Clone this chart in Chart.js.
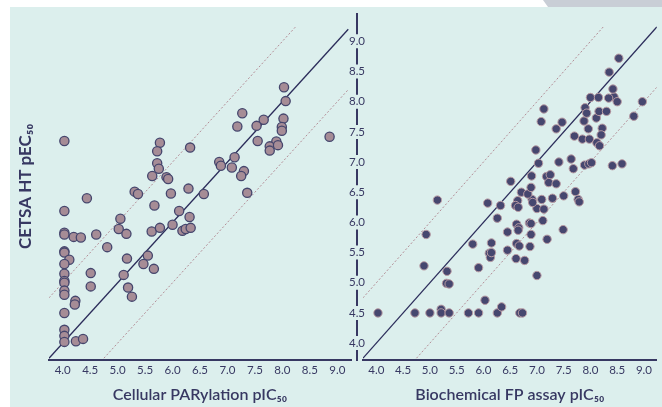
<!DOCTYPE html>
<html>
<head>
<meta charset="utf-8">
<script src="https://cdn.jsdelivr.net/npm/chart.js@4.4.1/dist/chart.umd.min.js"></script>
<style>
  html, body { margin: 0; padding: 0; background: #fff; }
  #page { position: relative; width: 662px; height: 407px; overflow: hidden; }
  #bg { position: absolute; left: 10px; top: 7px; width: 652px; height: 400px; background: #dcefed; }
  #tab { position: absolute; left: 543px; top: 0; width: 119px; height: 7px; background: #c9ced6;
         clip-path: polygon(0 0, 100% 0, 100% 100%, 5px 100%); }
  #left { position: absolute; left: 10px; top: 7px; }
  #right { position: absolute; left: 330px; top: 7px; }
</style>
</head>
<body>
<div id="page">
  <div id="bg"></div>
  <div id="tab"></div>
  <canvas id="left" width="347" height="400"></canvas>
  <canvas id="right" width="332" height="400"></canvas>
</div>
<script>
const xTicks = [4.0, 4.5, 5.0, 5.5, 6.0, 6.5, 7.0, 7.5, 8.0, 8.5, 9.0];
const yTicks = [4.0, 4.5, 5.0, 5.5, 6.0, 6.5, 7.0, 7.5, 8.0, 8.5, 9.0];

const yTitle = "CETSA HT pEC₅₀";
const leftTitle = "Cellular PARylation pIC₅₀";
const rightTitle = "Biochemical FP assay pIC₅₀";

// Cellular PARylation pIC50 vs CETSA HT pEC50
const cellularX = [4.03, 5.77, 5.72, 6.32, 5.72, 5.75, 5.63, 5.89, 5.92, 5.31, 5.37, 5.97, 6.29, 4.44, 4.03,
  5.67, 6.12, 6.31, 5.05, 5.02, 5.16, 5.62, 5.77, 6.00, 6.18, 6.24, 6.33, 4.03, 4.03, 4.20, 4.33, 4.61, 4.81,
  4.03, 4.03, 4.12, 4.03, 5.17, 5.55, 5.47, 5.66, 4.03, 4.51, 5.11, 4.03, 4.03, 4.03, 4.03, 4.51, 5.19, 5.26,
  4.23, 4.22, 4.03, 4.03, 4.03, 4.03, 4.24, 4.37,
  8.03, 8.06, 7.27, 8.02, 7.66, 7.18, 7.53, 7.99, 7.99, 8.86, 7.55, 7.89, 7.77, 7.92, 7.77, 7.13, 6.85, 6.88,
  7.08, 7.30, 7.25, 7.36, 6.57];
const cellularY = [7.35, 7.32, 7.18, 7.24, 6.98, 6.89, 6.77, 6.75, 6.72, 6.51, 6.47, 6.48, 6.56, 6.40, 6.19,
  6.28, 6.19, 6.09, 6.06, 5.89, 5.81, 5.85, 5.91, 5.96, 5.86, 5.89, 5.91, 5.83, 5.80, 5.76, 5.75, 5.80, 5.59,
  5.52, 5.50, 5.38, 5.31, 5.40, 5.45, 5.31, 5.23, 5.15, 5.16, 5.13, 5.03, 5.00, 4.87, 4.80, 4.94, 4.92, 4.77,
  4.70, 4.64, 4.50, 4.22, 4.12, 4.02, 4.03, 4.07,
  8.24, 8.01, 7.81, 7.72, 7.70, 7.59, 7.60, 7.58, 7.52, 7.42, 7.35, 7.34, 7.26, 7.28, 7.19, 7.08, 7.00, 6.94,
  6.91, 6.85, 6.77, 6.49, 6.47];

// Biochemical FP assay pIC50 vs CETSA HT pEC50
const biochemX = [4.03, 5.14, 4.93, 4.89, 5.32, 5.31, 5.36, 4.72, 5.00, 5.21, 5.21, 5.36, 5.72, 5.91, 6.03,
  6.26, 6.34, 6.68, 6.73, 5.91, 5.80, 6.15, 6.11, 6.13, 6.15, 6.08, 6.32, 6.26, 6.45, 6.45, 6.61, 6.77, 7.00,
  6.62, 6.67, 6.87, 7.19, 6.89, 7.49, 7.11, 6.86, 6.89, 6.62, 6.66, 6.65, 6.64, 6.60, 6.65, 7.00, 7.13, 6.91,
  6.92, 7.09, 7.29, 7.50, 7.72, 7.77, 7.79, 6.71, 6.83, 6.89, 6.51, 6.90, 7.18, 7.25, 7.22, 7.36, 7.03, 7.41,
  7.64, 7.68, 7.89, 7.97, 8.02, 8.41, 8.59, 6.98, 7.08, 7.13, 7.47, 7.36, 7.70, 7.85, 7.98, 7.96, 8.22, 8.20,
  8.12, 8.17, 7.88, 8.11, 7.90, 7.93, 8.16, 8.30, 8.00, 8.15, 8.44, 8.34, 8.50, 8.42, 8.35, 8.53, 8.97, 8.81];
const biochemY = [4.50, 6.37, 5.80, 5.28, 5.19, 4.99, 4.98, 4.50, 4.50, 4.56, 4.50, 4.50, 4.50, 4.50, 4.71,
  4.50, 4.60, 4.50, 4.50, 5.25, 5.64, 5.66, 5.49, 5.42, 5.50, 6.32, 6.28, 6.07, 5.84, 5.54, 5.40, 5.37, 5.12,
  5.65, 5.61, 5.60, 5.72, 5.80, 5.88, 6.03, 5.99, 5.98, 5.97, 5.91, 5.87, 6.36, 6.28, 6.25, 6.23, 6.22, 6.38,
  6.33, 6.38, 6.40, 6.44, 6.51, 6.38, 6.34, 6.50, 6.47, 6.58, 6.68, 6.77, 6.76, 6.79, 6.66, 6.64, 6.98, 7.00,
  7.05, 6.89, 6.95, 6.97, 6.99, 6.94, 6.97, 7.20, 7.67, 7.88, 7.66, 7.55, 7.43, 7.38, 7.38, 7.55, 7.56, 7.45,
  7.32, 7.27, 7.68, 7.73, 7.90, 7.81, 7.84, 7.84, 8.07, 8.07, 8.08, 8.06, 8.00, 8.21, 8.49, 8.72, 8.00, 7.76];

// x ranges of the reference lines y = x, y = x + 1, y = x - 1
const leftIdentity = [3.75, 9.2];
const leftUpper = [3.75, 8.25];
const leftLower = [4.75, 9.2];
const rightIdentity = [3.75, 9.24];
const rightUpper = [3.75, 8.25];
const rightLower = [4.75, 9.24];

const navy = "#373862";
const font = "Lato, 'Open Sans', sans-serif";

function toPoints(xs, ys) {
  return xs.map((x, i) => ({ x: x, y: ys[i] }));
}

function lineSet(xs, offset, dashed) {
  return {
    data: xs.map((x) => ({ x: x, y: x + offset })),
    showLine: true,
    pointRadius: 0,
    borderColor: dashed ? "#b38d96" : "#2b2c5a",
    borderWidth: dashed ? 1 : 1.3,
    borderDash: dashed ? [2, 2] : [],
  };
}

function xScale(min, max, title) {
  return {
    type: "linear",
    min: min,
    max: max,
    afterBuildTicks: (scale) => { scale.ticks = xTicks.map((v) => ({ value: v })); },
    afterFit: (scale) => { scale.height = 47; },
    ticks: {
      color: navy,
      font: { family: font, size: 11.5 },
      padding: 3,
      callback: (v) => v.toFixed(1),
    },
    grid: { display: false, drawTicks: false },
    border: { display: true, color: navy, width: 2 },
    title: {
      display: true,
      text: title,
      color: navy,
      font: { family: font, size: 16, weight: "600" },
      padding: { top: 0, bottom: 3 },
    },
  };
}

// shared y axis: labels on the axis line, line broken around each label
const splitAxis = {
  id: "splitAxis",
  afterDraw(chart) {
    const scale = chart.scales.y;
    const ctx = chart.ctx;
    const x = scale.right - 6;
    const stops = [{ p: chart.chartArea.bottom + 1, g: 0 }];
    yTicks.forEach((v) => stops.push({ p: scale.getPixelForValue(v), g: 7 }));
    stops.push({ p: chart.chartArea.top, g: 0 });
    ctx.save();
    ctx.strokeStyle = navy;
    ctx.lineWidth = 2;
    for (let i = 0; i < stops.length - 1; i++) {
      ctx.beginPath();
      ctx.moveTo(x, stops[i].p - stops[i].g);
      ctx.lineTo(x, stops[i + 1].p + stops[i + 1].g);
      ctx.stroke();
    }
    ctx.fillStyle = navy;
    ctx.font = "11.5px " + font;
    ctx.textAlign = "center";
    ctx.textBaseline = "middle";
    yTicks.forEach((v) => ctx.fillText(v.toFixed(1), x, scale.getPixelForValue(v)));
    ctx.restore();
  },
};

const common = {
  responsive: false,
  animation: false,
  plugins: { legend: { display: false }, tooltip: { enabled: false } },
};

new Chart(document.getElementById("left"), {
  type: "scatter",
  data: {
    datasets: [
      {
        data: toPoints(cellularX, cellularY),
        pointRadius: 4.6,
        pointBackgroundColor: "#a68c96",
        pointBorderColor: "#45466d",
        pointBorderWidth: 1.3,
      },
      lineSet(leftIdentity, 0, false),
      lineSet(leftUpper, 1, true),
      lineSet(leftLower, -1, true),
    ],
  },
  options: {
    ...common,
    layout: { padding: { top: 6, left: 0, right: 6, bottom: 0 } },
    scales: {
      x: xScale(3.75, 9.25, leftTitle),
      y: {
        type: "linear",
        min: 3.72,
        max: 9.47,
        afterFit: (scale) => { scale.width = 39; },
        ticks: { display: false },
        grid: { display: false, drawTicks: false },
        border: { display: false },
        title: {
          display: true,
          text: yTitle,
          color: navy,
          font: { family: font, size: 17, weight: "bold" },
          padding: { top: 5, bottom: 0 },
        },
      },
    },
  },
});

new Chart(document.getElementById("right"), {
  type: "scatter",
  data: {
    datasets: [
      {
        data: toPoints(biochemX, biochemY),
        pointRadius: 4.2,
        pointBackgroundColor: "#46476f",
        pointBorderColor: "#b89ba3",
        pointBorderWidth: 1,
      },
      lineSet(rightIdentity, 0, false),
      lineSet(rightUpper, 1, true),
      lineSet(rightLower, -1, true),
    ],
  },
  options: {
    ...common,
    layout: { padding: { top: 6, left: 0, right: 0, bottom: 0 } },
    scales: {
      x: xScale(3.75, 9.24, rightTitle),
      y: {
        type: "linear",
        position: "left",
        min: 3.72,
        max: 9.47,
        afterFit: (scale) => { scale.width = 33; },
        ticks: { display: false },
        grid: { display: false, drawTicks: false },
        border: { display: false },
      },
    },
  },
  plugins: [splitAxis],
});
</script>
</body>
</html>
